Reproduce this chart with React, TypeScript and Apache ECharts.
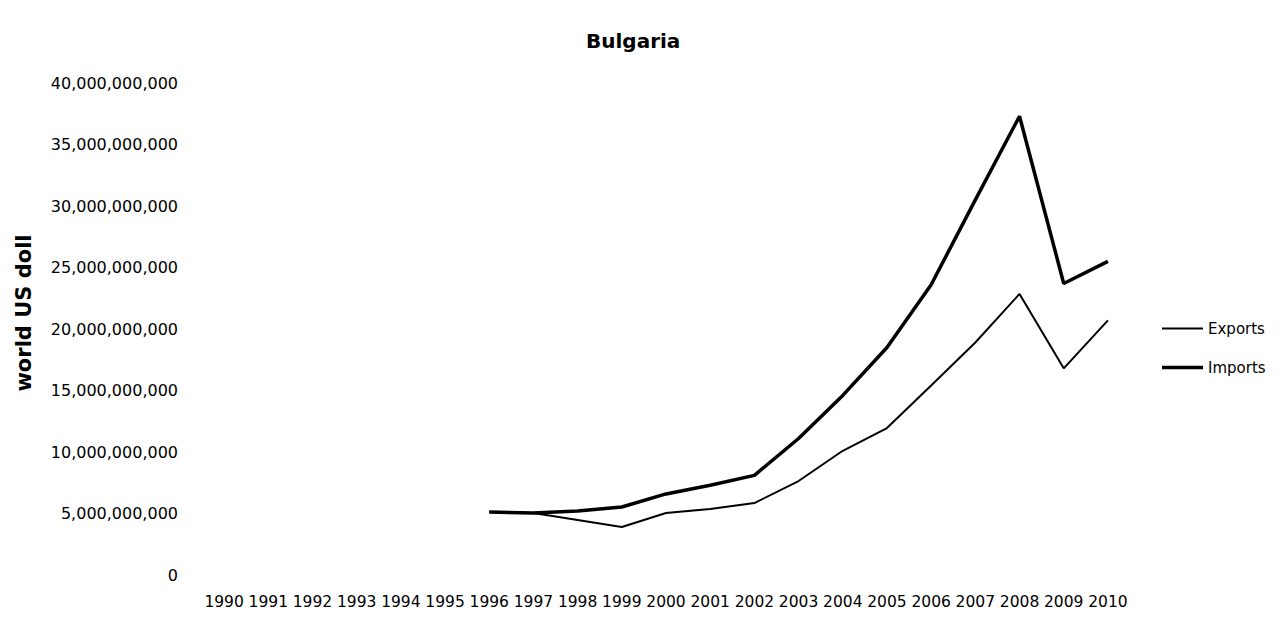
import React, { useEffect, useRef } from "react";
import * as echarts from "echarts";

const years = [
  "1990", "1991", "1992", "1993", "1994", "1995", "1996", "1997", "1998", "1999", "2000",
  "2001", "2002", "2003", "2004", "2005", "2006", "2007", "2008", "2009", "2010",
];

const exportsBn: (number | null)[] = [
  null, null, null, null, null, null,
  5.12, 5.04, 4.47, 3.9, 5.04, 5.37, 5.85, 7.64, 10.1, 11.95, 15.4, 18.9, 22.85, 16.8, 20.7,
];

const importsBn: (number | null)[] = [
  null, null, null, null, null, null,
  5.12, 5.04, 5.2, 5.53, 6.59, 7.3, 8.1, 11.1, 14.6, 18.5, 23.6, 30.5, 37.3, 23.7, 25.5,
];

const yAxisTitle = "world US doll";
const chartTitle = "Bulgaria";

const toUsd = (a: (number | null)[]) => a.map((v) => (v == null ? null : v * 1e9));

const FONT = "DejaVu Sans";

export default function App() {
  const ref = useRef<HTMLDivElement>(null);
  useEffect(() => {
    if (!ref.current) return;
    const chart = echarts.init(ref.current, null, { renderer: "svg" });
    const legendBase = {
      orient: "vertical",
      left: 1157,
      icon: "rect",
      itemWidth: 41,
      itemGap: 0,
      textStyle: { fontFamily: FONT, fontSize: 15, color: "#000" },
      itemStyle: { color: "#000" },
    };
    chart.setOption({
      animation: false,
      backgroundColor: "#ffffff",
      title: {
        text: chartTitle,
        left: 581,
        top: 26,
        textStyle: { fontFamily: FONT, fontWeight: "bold", fontSize: 20, color: "#000" },
      },
      legend: [
        { ...legendBase, top: 316, itemHeight: 2, data: ["Exports"] },
        { ...legendBase, top: 355, itemHeight: 3.5, data: ["Imports"] },
      ],
      graphic: [
        {
          type: "text",
          x: 24,
          y: 313,
          rotation: Math.PI / 2,
          style: {
            text: yAxisTitle,
            fontFamily: FONT,
            fontWeight: "bold",
            fontSize: 21,
            fill: "#000",
            align: "center",
            verticalAlign: "middle",
          },
        },
      ],
      grid: { left: 202, right: 154, top: 83, bottom: 51 },
      xAxis: {
        type: "category",
        data: years,
        boundaryGap: true,
        axisLine: { show: false },
        axisTick: { show: false },
        axisLabel: {
          interval: 0,
          margin: 19,
          fontFamily: FONT,
          fontSize: 15.5,
          color: "#000",
        },
      },
      yAxis: {
        type: "value",
        min: 0,
        max: 40e9,
        interval: 5e9,
        splitLine: { show: false },
        axisLine: { show: false },
        axisTick: { show: false },
        axisLabel: {
          margin: 24,
          fontFamily: FONT,
          fontSize: 16,
          color: "#000",
          formatter: (v: number) => v.toLocaleString("en-US"),
        },
      },
      series: [
        {
          name: "Exports",
          type: "line",
          data: toUsd(exportsBn),
          symbol: "none",
          connectNulls: false,
          lineStyle: { color: "#000", width: 2 },
          itemStyle: { color: "#000" },
        },
        {
          name: "Imports",
          type: "line",
          data: toUsd(importsBn),
          symbol: "none",
          connectNulls: false,
          lineStyle: { color: "#000", width: 3.5 },
          itemStyle: { color: "#000" },
        },
      ],
    });
    return () => chart.dispose();
  }, []);
  return (
    <div
      ref={ref}
      style={{ position: "fixed", left: 0, top: 0, width: 1284, height: 626, background: "#fff" }}
    />
  );
}
